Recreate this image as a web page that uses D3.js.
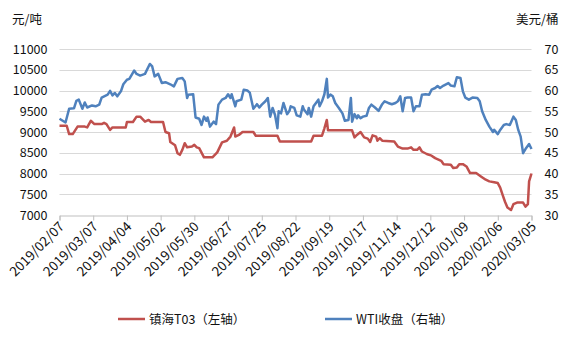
<!DOCTYPE html>
<html><head><meta charset="utf-8">
<script src="https://cdn.jsdelivr.net/npm/d3@7"></script>
<style>
html,body{margin:0;padding:0;background:#fff;}
text{font-family:"Noto Sans CJK SC","Microsoft YaHei",sans-serif;}
</style></head>
<body><svg id="c" width="567" height="337"></svg>
<script>
const xTickLabels = ["2019/02/07","2019/03/07","2019/04/04","2019/05/02","2019/05/30","2019/06/27","2019/07/25","2019/08/22","2019/09/19","2019/10/17","2019/11/14","2019/12/12","2020/01/09","2020/02/06","2020/03/05"];
const leftTicks = [7000,7500,8000,8500,9000,9500,10000,10500,11000];
const rightTicks = [30,35,40,45,50,55,60,65,70];
const seriesNames = ["镇海T03（左轴）","WTI收盘（右轴）"];

const zhDates = ["2019-02-07","2019-02-13","2019-02-15","2019-02-18","2019-02-22","2019-02-28","2019-03-02","2019-03-05","2019-03-08","2019-03-14","2019-03-16","2019-03-18","2019-03-21","2019-03-23","2019-04-03","2019-04-04","2019-04-09","2019-04-12","2019-04-15","2019-04-19","2019-04-22","2019-04-24","2019-05-04","2019-05-06","2019-05-09","2019-05-10","2019-05-14","2019-05-16","2019-05-18","2019-05-20","2019-05-22","2019-05-24","2019-05-28","2019-05-30","2019-06-01","2019-06-03","2019-06-07","2019-06-14","2019-06-18","2019-06-22","2019-06-26","2019-06-29","2019-07-02","2019-07-03","2019-07-06","2019-07-09","2019-07-18","2019-07-20","2019-08-07","2019-08-09","2019-09-04","2019-09-06","2019-09-13","2019-09-15","2019-09-17","2019-09-18","2019-10-08","2019-10-10","2019-10-12","2019-10-15","2019-10-18","2019-10-21","2019-10-23","2019-10-25","2019-10-28","2019-10-29","2019-10-31","2019-11-02","2019-11-12","2019-11-15","2019-11-19","2019-11-23","2019-11-26","2019-11-28","2019-12-01","2019-12-03","2019-12-05","2019-12-09","2019-12-13","2019-12-16","2019-12-21","2019-12-23","2019-12-29","2019-12-31","2020-01-03","2020-01-05","2020-01-08","2020-01-11","2020-01-14","2020-01-19","2020-01-23","2020-01-27","2020-01-30","2020-02-03","2020-02-06","2020-02-08","2020-02-10","2020-02-12","2020-02-14","2020-02-17","2020-02-19","2020-02-22","2020-02-27","2020-02-29","2020-03-02","2020-03-03","2020-03-05"];
const zhValues = [9150,9150,8950,8950,9130,9130,9110,9270,9190,9190,9220,9190,9050,9110,9110,9240,9240,9370,9370,9250,9290,9240,9240,9000,8970,8760,8680,8490,8450,8570,8730,8630,8650,8690,8630,8610,8390,8390,8510,8750,8790,8890,9110,8890,8930,9000,9000,8910,8910,8770,8770,8910,8910,9090,9290,9040,9040,8870,8930,9000,8870,8840,8760,8920,8890,8790,8850,8790,8770,8650,8600,8600,8630,8570,8570,8630,8530,8470,8430,8370,8305,8225,8210,8130,8145,8225,8225,8170,8010,8010,7930,7850,7810,7790,7770,7660,7485,7320,7180,7120,7260,7300,7300,7200,7260,7810,8000];

const wtiDates = ["2019-02-07","2019-02-12","2019-02-15","2019-02-19","2019-02-21","2019-02-23","2019-02-26","2019-02-28","2019-03-02","2019-03-06","2019-03-09","2019-03-12","2019-03-14","2019-03-19","2019-03-21","2019-03-23","2019-03-25","2019-03-27","2019-03-30","2019-04-01","2019-04-04","2019-04-06","2019-04-10","2019-04-12","2019-04-15","2019-04-19","2019-04-23","2019-04-25","2019-04-27","2019-04-30","2019-05-03","2019-05-06","2019-05-10","2019-05-13","2019-05-16","2019-05-20","2019-05-22","2019-05-24","2019-05-25","2019-05-29","2019-05-31","2019-06-03","2019-06-05","2019-06-07","2019-06-09","2019-06-10","2019-06-12","2019-06-15","2019-06-17","2019-06-19","2019-06-22","2019-06-25","2019-06-27","2019-06-29","2019-06-30","2019-07-03","2019-07-04","2019-07-08","2019-07-10","2019-07-13","2019-07-15","2019-07-18","2019-07-21","2019-07-23","2019-07-25","2019-07-28","2019-07-30","2019-08-01","2019-08-03","2019-08-05","2019-08-07","2019-08-08","2019-08-10","2019-08-12","2019-08-15","2019-08-17","2019-08-18","2019-08-21","2019-08-23","2019-08-26","2019-08-28","2019-08-29","2019-09-01","2019-09-02","2019-09-04","2019-09-06","2019-09-08","2019-09-10","2019-09-11","2019-09-13","2019-09-15","2019-09-17","2019-09-18","2019-09-20","2019-09-22","2019-09-24","2019-09-27","2019-09-30","2019-10-02","2019-10-05","2019-10-07","2019-10-08","2019-10-10","2019-10-12","2019-10-13","2019-10-15","2019-10-17","2019-10-20","2019-10-22","2019-10-24","2019-10-27","2019-10-30","2019-11-02","2019-11-04","2019-11-07","2019-11-10","2019-11-13","2019-11-15","2019-11-17","2019-11-19","2019-11-21","2019-11-23","2019-11-26","2019-11-28","2019-11-30","2019-12-03","2019-12-05","2019-12-08","2019-12-11","2019-12-13","2019-12-16","2019-12-18","2019-12-20","2019-12-23","2019-12-27","2019-12-29","2020-01-01","2020-01-03","2020-01-06","2020-01-08","2020-01-10","2020-01-13","2020-01-16","2020-01-20","2020-01-22","2020-01-24","2020-01-27","2020-01-30","2020-02-02","2020-02-03","2020-02-06","2020-02-08","2020-02-11","2020-02-13","2020-02-16","2020-02-19","2020-02-21","2020-02-23","2020-02-25","2020-02-27","2020-02-29","2020-03-03","2020-03-05"];
const wtiValues = [53.2,52.3,55.6,55.7,57.5,57.8,55.6,57.1,55.9,56.4,56.2,56.6,58.3,59.0,59.9,58.8,59.4,58.6,59.8,61.5,62.6,62.8,64.8,64.0,63.6,64.0,66.4,65.8,63.4,64.0,61.8,62.0,61.5,61.0,62.8,63.0,62.2,58.2,59.0,59.1,53.5,53.2,51.7,53.7,52.7,53.5,51.3,52.5,51.9,56.6,57.8,58.2,59.1,58.2,59.1,56.2,57.4,57.8,60.2,60.0,59.5,55.6,56.7,55.9,56.6,57.4,58.2,53.7,55.8,54.1,50.9,55.0,54.5,57.0,54.3,55.1,56.2,55.8,54.0,53.7,56.2,55.4,54.3,55.8,53.7,56.2,57.0,57.8,56.2,57.4,59.1,62.8,58.3,59.0,58.6,57.0,55.8,54.5,52.7,52.9,58.2,52.5,54.3,53.3,54.0,53.3,53.7,53.9,55.8,56.6,55.9,55.1,56.7,57.4,57.0,56.7,57.0,57.4,58.6,55.0,58.2,58.3,58.3,55.0,56.2,56.2,59.0,59.1,59.0,60.2,60.6,61.1,60.6,61.2,61.8,61.2,61.0,63.2,63.0,59.8,58.3,57.8,58.3,58.2,57.4,55.0,52.9,51.3,50.0,50.5,49.5,50.5,51.7,51.9,51.7,53.7,52.9,50.5,48.9,44.9,45.9,47.1,45.9];

const parse = d3.timeParse("%Y-%m-%d");
const tickDates = xTickLabels.map(s => d3.timeParse("%Y/%m/%d")(s));
const svg = d3.select("#c");
const L = 59.5, R = 531.5, T = 49, B = 215;
const x = d3.scaleTime().domain([tickDates[0], tickDates[tickDates.length-1]]).range([L, R]);
const yL = d3.scaleLinear().domain([7000, 11000]).range([B, T]);
const yR = d3.scaleLinear().domain([30, 70]).range([B, T]);

// gridlines
svg.append("g").selectAll("line").data(leftTicks.slice(1)).join("line")
  .attr("x1", L).attr("x2", R).attr("y1", d => Math.round(yL(d))+0.5).attr("y2", d => Math.round(yL(d))+0.5)
  .attr("stroke", "#d9d9d9").attr("stroke-width", 1);

// bottom axis
const xAxis = d3.axisBottom(x).tickValues(tickDates).tickSize(5).tickFormat((d,i)=>xTickLabels[i]);
const gx = svg.append("g").attr("transform", `translate(0,${B+0.5})`).call(xAxis);
gx.select(".domain").attr("stroke", "#bfbfbf");
gx.selectAll(".tick line").attr("stroke", "#bfbfbf");
gx.selectAll(".tick text").attr("font-size", 13.5).attr("fill", "#111")
  .attr("text-anchor", "end").attr("dy", null).attr("y", 0)
  .attr("transform", "translate(5,12) rotate(-45)");

// left axis
const gl = svg.append("g").attr("transform", `translate(${L},0)`).call(d3.axisLeft(yL).tickValues(leftTicks).tickSize(0).tickPadding(12).tickFormat(d3.format("d")));
gl.select(".domain").remove();
gl.selectAll("text").attr("font-size", 12.5).attr("fill", "#111");

// right axis
const gr = svg.append("g").attr("transform", `translate(${R},0)`).call(d3.axisRight(yR).tickValues(rightTicks).tickSize(0).tickPadding(13));
gr.select(".domain").remove();
gr.selectAll("text").attr("font-size", 12.5).attr("fill", "#111");

// units
svg.append("text").attr("x", 12).attr("y", 24).attr("font-size", 12.5).attr("fill", "#111").text("元/吨");
svg.append("text").attr("x", 516).attr("y", 24).attr("font-size", 12.5).attr("fill", "#111").text("美元/桶");

// lines
const zh = zhDates.map((d,i)=>({d:parse(d), v:zhValues[i]}));
const wti = wtiDates.map((d,i)=>({d:parse(d), v:wtiValues[i]}));
const colors = ["#c0504d", "#4f81bd"];
svg.append("path").datum(wti).attr("fill","none").attr("stroke",colors[1]).attr("stroke-width",2.5).attr("stroke-linejoin","round")
  .attr("d", d3.line().x(d=>x(d.d)).y(d=>yR(d.v)));
svg.append("path").datum(zh).attr("fill","none").attr("stroke",colors[0]).attr("stroke-width",2.5).attr("stroke-linejoin","round")
  .attr("d", d3.line().x(d=>x(d.d)).y(d=>yL(d.v)));

// legend
const legX = [118, 325];
seriesNames.forEach((n,i)=>{
  svg.append("line").attr("x1", legX[i]).attr("x2", legX[i]+27).attr("y1", 319).attr("y2", 319)
    .attr("stroke", colors[i]).attr("stroke-width", 2.5);
  svg.append("text").attr("x", legX[i]+31).attr("y", 323.5).attr("font-size", 12.5).attr("fill", "#111").text(n);
});
</script></body></html>
